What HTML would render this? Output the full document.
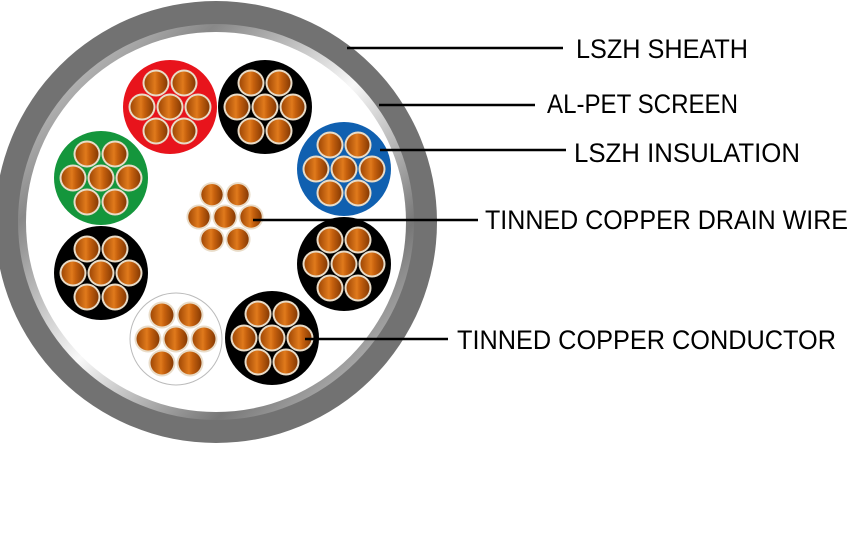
<!DOCTYPE html>
<html><head><meta charset="utf-8"><style>html,body{margin:0;padding:0;background:#fff;width:850px;height:550px;overflow:hidden}</style></head>
<body>
<svg width="850" height="550" viewBox="0 0 850 550" xmlns="http://www.w3.org/2000/svg">
<defs>
<linearGradient id="cu" x1="0" y1="0" x2="1" y2="0">
<stop offset="0" stop-color="#a04806"/><stop offset="0.45" stop-color="#e07a1c"/><stop offset="0.6" stop-color="#c8620e"/><stop offset="1" stop-color="#863a04"/>
</linearGradient>
<linearGradient id="scr" x1="0" y1="0" x2="1" y2="1">
<stop offset="0" stop-color="#e8e8e8"/><stop offset="0.25" stop-color="#888"/><stop offset="0.5" stop-color="#f8f8f8"/><stop offset="0.75" stop-color="#777"/><stop offset="1" stop-color="#e4e4e4"/>
</linearGradient>
<g id="s">
<circle cx="-14" cy="-24" r="13.5" fill="#e9dcc8"/><circle cx="14" cy="-24" r="13.5" fill="#e9dcc8"/>
<circle cx="-28" cy="0" r="13.5" fill="#e9dcc8"/><circle cx="0" cy="0" r="13.5" fill="#e9dcc8"/><circle cx="28" cy="0" r="13.5" fill="#e9dcc8"/>
<circle cx="-14" cy="24" r="13.5" fill="#e9dcc8"/><circle cx="14" cy="24" r="13.5" fill="#e9dcc8"/>
<circle cx="-14" cy="-24" r="11.5" fill="url(#cu)"/><circle cx="14" cy="-24" r="11.5" fill="url(#cu)"/>
<circle cx="-28" cy="0" r="11.5" fill="url(#cu)"/><circle cx="0" cy="0" r="11.5" fill="url(#cu)"/><circle cx="28" cy="0" r="11.5" fill="url(#cu)"/>
<circle cx="-14" cy="24" r="11.5" fill="url(#cu)"/><circle cx="14" cy="24" r="11.5" fill="url(#cu)"/>
</g>
</defs>
<circle cx="216" cy="222" r="221" fill="#727272"/>
<circle cx="216" cy="222" r="198" fill="url(#scr)"/>
<circle cx="216" cy="222" r="190" fill="#fff"/>
<circle cx="170" cy="107" r="47" fill="#e8141c"/><use href="#s" x="170" y="107"/>
<circle cx="265" cy="107" r="47" fill="#000"/><use href="#s" x="265" y="107"/>
<circle cx="344" cy="169" r="47" fill="#1060b0"/><use href="#s" x="344" y="169"/>
<circle cx="101" cy="178" r="47" fill="#14963c"/><use href="#s" x="101" y="178"/>
<circle cx="101" cy="273" r="47" fill="#000"/><use href="#s" x="101" y="273"/>
<circle cx="344" cy="264" r="47" fill="#000"/><use href="#s" x="344" y="264"/>
<circle cx="176" cy="339" r="46" fill="#fff" stroke="#bbb" stroke-width="1"/><use href="#s" x="176" y="339"/>
<circle cx="272" cy="338" r="47" fill="#000"/><use href="#s" x="272" y="338"/>
<use href="#s" transform="translate(225 217) scale(0.93)"/>
<g stroke="#000" stroke-width="2.5">
<line x1="347" y1="48" x2="563" y2="48"/>
<line x1="379" y1="105" x2="535" y2="105"/>
<line x1="380" y1="150" x2="566" y2="150"/>
<line x1="253" y1="220" x2="478" y2="220"/>
<line x1="305" y1="339" x2="448" y2="339"/>
</g>
<g font-family="Liberation Sans, sans-serif" font-size="27" fill="#000">
<text x="576" y="58" textLength="172" lengthAdjust="spacingAndGlyphs">LSZH SHEATH</text>
<text x="547" y="113" textLength="191" lengthAdjust="spacingAndGlyphs">AL-PET SCREEN</text>
<text x="574" y="162" textLength="226" lengthAdjust="spacingAndGlyphs">LSZH INSULATION</text>
<text x="485" y="229" textLength="363" lengthAdjust="spacingAndGlyphs">TINNED COPPER DRAIN WIRE</text>
<text x="457" y="349" textLength="379" lengthAdjust="spacingAndGlyphs">TINNED COPPER CONDUCTOR</text>
</g>
</svg>
</body></html>
